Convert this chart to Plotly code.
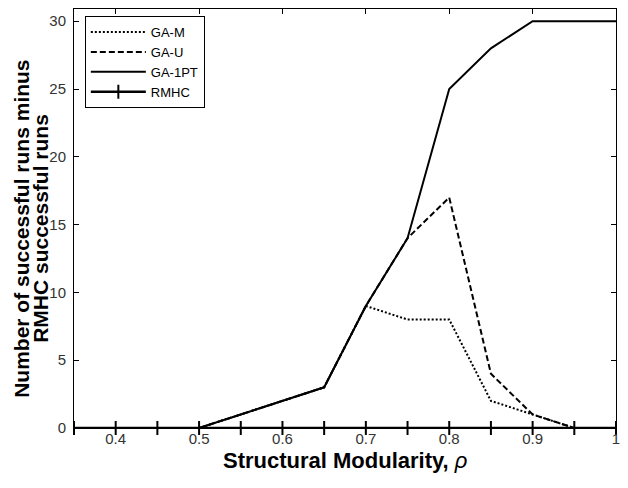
import plotly.graph_objects as go

rho = [0.35, 0.40, 0.45, 0.50, 0.55, 0.60, 0.65, 0.70, 0.75, 0.80, 0.85, 0.90, 0.95, 1.00]
ga_m = [0, 0, 0, 0, 1, 2, 3, 9, 8, 8, 2, 1, 0, 0]
ga_u = [0, 0, 0, 0, 1, 2, 3, 9, 14, 17, 4, 1, 0, 0]
ga_1pt = [0, 0, 0, 0, 1, 2, 3, 9, 14, 25, 28, 30, 30, 30]
rmhc = [0] * len(rho)

x_ticks = [0.4, 0.5, 0.6, 0.7, 0.8, 0.9, 1.0]
x_tick_text = ["0.4", "0.5", "0.6", "0.7", "0.8", "0.9", "1"]
y_ticks = [0, 5, 10, 15, 20, 25, 30]

x_title = "<b>Structural Modularity, </b><i>ρ</i>"
y_title_1 = "Number of successful runs minus"
y_title_2 = "RMHC successful runs"

FONT = "Liberation Sans, Arial, sans-serif"

fig = go.Figure()
fig.add_trace(go.Scatter(x=rho, y=ga_m, mode="lines", name="GA-M",
                         line=dict(color="black", width=2, dash="2px,2px")))
fig.add_trace(go.Scatter(x=rho, y=ga_u, mode="lines", name="GA-U",
                         line=dict(color="black", width=2, dash="6px,3px")))
fig.add_trace(go.Scatter(x=rho, y=ga_1pt, mode="lines", name="GA-1PT",
                         line=dict(color="black", width=2)))
fig.add_trace(go.Scatter(x=rho, y=rmhc, mode="lines+markers", name="RMHC",
                         line=dict(color="black", width=2.5),
                         marker=dict(symbol="line-ns", size=10, color="black",
                                     line=dict(color="black", width=2)),
                         cliponaxis=False))

fig.update_layout(
    width=612, height=466,
    margin=dict(l=66, r=2, t=0, b=46),
    paper_bgcolor="white", plot_bgcolor="white",
    font=dict(family=FONT, size=15, color="#333"),
    showlegend=True,
    legend=dict(x=0.02, y=0.983, xanchor="left", yanchor="top",
                bgcolor="white", bordercolor="black", borderwidth=1,
                font=dict(family=FONT, size=13, color="black"),
                itemwidth=55, tracegroupgap=0),
    xaxis=dict(range=[0.35, 1.0], tickvals=x_ticks, ticktext=x_tick_text,
               ticks="inside", ticklen=5, tickcolor="black",
               showline=True, linecolor="black", linewidth=1, mirror="allticks",
               showgrid=False, zeroline=False, ticklabelstandoff=-3,
               ticklabeloverflow="allow"),
    yaxis=dict(range=[0, 30.9], tickvals=y_ticks,
               ticks="inside", ticklen=5, tickcolor="black",
               showline=True, linecolor="black", linewidth=1, mirror="allticks",
               showgrid=False, zeroline=False, ticklabelstandoff=4,
               ticklabeloverflow="allow"),
    annotations=[
        dict(text=x_title, xref="paper", yref="paper",
             x=0.5, y=0, yshift=-32, xanchor="center", yanchor="middle",
             showarrow=False, font=dict(family=FONT, size=22, color="black")),
        dict(text="<b>" + y_title_1 + "</b>", xref="paper", yref="paper",
             x=0, y=0.476, xshift=-52.7, xanchor="center", yanchor="middle",
             textangle=-90, showarrow=False,
             font=dict(family=FONT, size=21, color="black")),
        dict(text="<b>" + y_title_2 + "</b>", xref="paper", yref="paper",
             x=0, y=0.476, xshift=-33.7, xanchor="center", yanchor="middle",
             textangle=-90, showarrow=False,
             font=dict(family=FONT, size=21, color="black")),
    ],
)

fig.write_html("out.html")
